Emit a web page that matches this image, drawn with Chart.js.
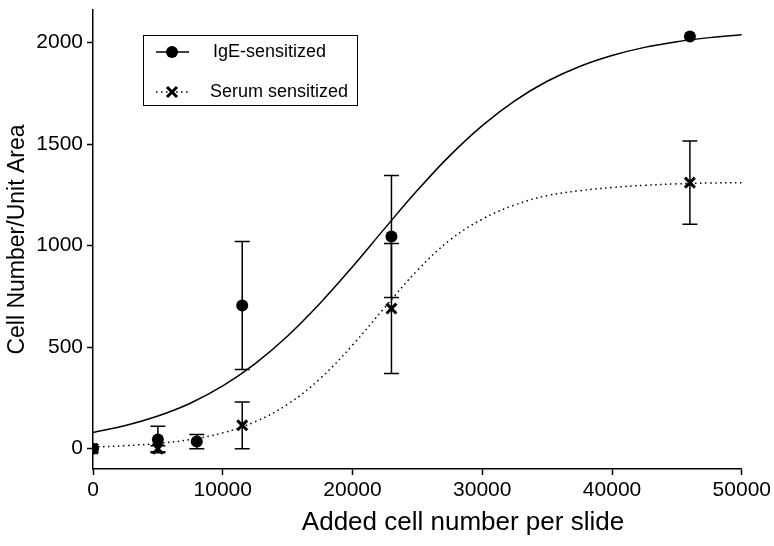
<!DOCTYPE html>
<html>
<head>
<meta charset="utf-8">
<script src="https://cdn.jsdelivr.net/npm/chart.js@4"></script>
<style>
  html, body { margin: 0; padding: 0; background: #fff; }
  #wrap { width: 774px; height: 546px; }
</style>
</head>
<body>
<div id="wrap"><canvas id="cellChart"></canvas></div>
<script>
// measured points (mean +/- error)
const igeX = [0, 5000, 8000, 11500, 23000, 46000];
const igeY = [0, 45, 35, 705, 1045, 2030];
const igeErr = [0, 65, 35, 315, 300, 0];

const serumX = [0, 5000, 11500, 23000, 46000];
const serumY = [0, 0, 115, 690, 1310];
const serumErr = [0, 15, 115, 320, 205];

// fitted curves
const fitX = [0, 2500, 5000, 7500, 10000, 12500, 15000, 17500, 20000, 22500, 25000,
              27500, 30000, 32500, 35000, 37500, 40000, 42500, 45000, 47500, 50000];
const igeFit = [80, 114, 161, 224, 309, 419, 555, 716, 896, 1086, 1272,
                1443, 1591, 1713, 1809, 1882, 1936, 1976, 2004, 2024, 2038];
const serumFit = [8, 15, 26, 45, 78, 133, 219, 345, 510, 697, 878,
                  1027, 1130, 1200, 1246, 1270, 1286, 1297, 1304, 1308, 1310];

const xTicks = [0, 10000, 20000, 30000, 40000, 50000];
const yTicks = [0, 500, 1000, 1500, 2000];

const FONT = "'Liberation Sans', Arial, sans-serif";
const toPts = (xs, ys) => xs.map((x, i) => ({ x: x, y: ys[i] }));

const errorBars = {
    id: 'errorBars',
    afterDatasetsDraw(chart) {
        const { ctx, scales: { x, y } } = chart;
        const sets = [[igeX, igeY, igeErr], [serumX, serumY, serumErr]];
        ctx.save();
        ctx.strokeStyle = '#000';
        ctx.lineWidth = 1.5;
        sets.forEach(([xs, ys, es]) => {
            xs.forEach((v, i) => {
                if (!es[i]) return;
                const px = x.getPixelForValue(v);
                const top = y.getPixelForValue(ys[i] + es[i]);
                const bot = y.getPixelForValue(ys[i] - es[i]);
                ctx.beginPath();
                ctx.moveTo(px, top); ctx.lineTo(px, bot);
                ctx.moveTo(px - 7.5, top); ctx.lineTo(px + 7.5, top);
                ctx.moveTo(px - 7.5, bot); ctx.lineTo(px + 7.5, bot);
                ctx.stroke();
            });
        });
        ctx.restore();
    }
};

const boxLegend = {
    id: 'boxLegend',
    afterDraw(chart) {
        const ctx = chart.ctx;
        ctx.save();
        ctx.strokeStyle = '#000';
        ctx.lineWidth = 1;
        ctx.strokeRect(143.5, 35.5, 214, 70);

        // IgE row
        ctx.lineWidth = 1.5;
        ctx.beginPath(); ctx.moveTo(156, 52); ctx.lineTo(189, 52); ctx.stroke();
        ctx.fillStyle = '#000';
        ctx.beginPath(); ctx.arc(172, 52, 6, 0, Math.PI * 2); ctx.fill();

        // Serum row
        ctx.setLineDash([1.5, 3.5]);
        ctx.beginPath(); ctx.moveTo(156, 92); ctx.lineTo(190, 92); ctx.stroke();
        ctx.setLineDash([]);
        ctx.lineWidth = 3;
        ctx.beginPath();
        ctx.moveTo(167, 87); ctx.lineTo(177, 97);
        ctx.moveTo(177, 87); ctx.lineTo(167, 97);
        ctx.stroke();

        ctx.font = '18px ' + FONT;
        ctx.textBaseline = 'middle';
        ctx.fillText('IgE-sensitized', 213, 52);
        ctx.fillText('Serum sensitized', 210, 92);

        // x axis title (sits right of the plot centre in the original)
        ctx.font = '26px ' + FONT;
        ctx.textAlign = 'center';
        ctx.fillText('Added cell number per slide', 463, 523);
        ctx.restore();
    }
};

const ctx = document.getElementById('cellChart').getContext('2d');
new Chart(ctx, {
    type: 'scatter',
    data: {
        datasets: [
            {
                label: 'IgE fit',
                data: toPts(fitX, igeFit),
                showLine: true,
                borderColor: '#000',
                borderWidth: 1.5,
                pointRadius: 0,
                tension: 0.4
            },
            {
                label: 'Serum fit',
                data: toPts(fitX, serumFit),
                showLine: true,
                borderColor: '#000',
                borderWidth: 1.5,
                borderDash: [1.5, 3.5],
                pointRadius: 0,
                tension: 0.4
            },
            {
                label: 'IgE-sensitized',
                data: toPts(igeX, igeY),
                pointStyle: 'circle',
                pointRadius: 6,
                backgroundColor: '#000',
                borderColor: '#000',
                borderWidth: 0
            },
            {
                label: 'Serum sensitized',
                data: toPts(serumX, serumY),
                pointStyle: 'crossRot',
                pointRadius: 7,
                borderColor: '#000',
                borderWidth: 3
            }
        ]
    },
    options: {
        responsive: true,
        maintainAspectRatio: false,
        animation: false,
        layout: { padding: { top: 2, right: 32, left: 0, bottom: 0 } },
        plugins: { legend: { display: false }, tooltip: { enabled: false } },
        scales: {
            x: {
                type: 'linear',
                min: 0,
                max: 50000,
                afterBuildTicks: s => { s.ticks = xTicks.map(v => ({ value: v })); },
                afterFit: s => { s.height = 77; },
                border: { display: true, color: '#000', width: 1.5 },
                grid: { drawOnChartArea: false, color: '#000', tickLength: 6, tickWidth: 1.5 },
                ticks: {
                    color: '#000', font: { family: FONT, size: 21 }, padding: 3, maxRotation: 0,
                    callback: v => String(v)
                },
                title: { display: false }
            },
            y: {
                type: 'linear',
                min: -100,
                max: 2160,
                afterBuildTicks: s => { s.ticks = yTicks.map(v => ({ value: v })); },
                afterFit: s => { s.width = 93; s.paddingTop = 0; s.paddingBottom = 0; },
                border: { display: true, color: '#000', width: 1.5 },
                grid: { drawOnChartArea: false, color: '#000', tickLength: 6, tickWidth: 1.5 },
                ticks: {
                    color: '#000', font: { family: FONT, size: 21 }, padding: 4,
                    callback: v => String(v)
                },
                title: {
                    display: true,
                    text: 'Cell Number/Unit Area',
                    color: '#000',
                    font: { family: FONT, size: 23 },
                    padding: { bottom: 0 }
                }
            }
        }
    },
    plugins: [errorBars, boxLegend]
});
</script>
</body>
</html>
